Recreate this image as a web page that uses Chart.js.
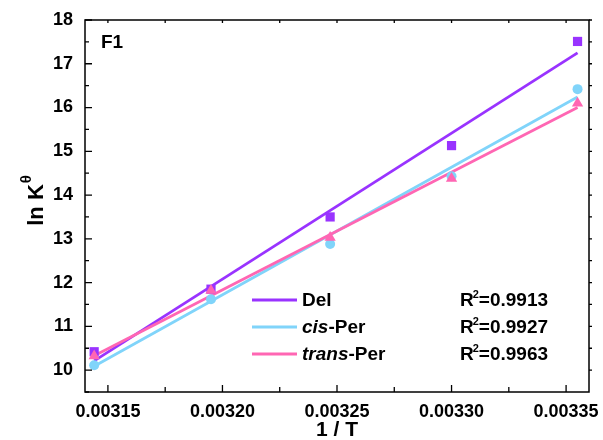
<!DOCTYPE html>
<html>
<head>
<meta charset="utf-8">
<script src="https://cdn.jsdelivr.net/npm/chart.js@4/dist/chart.umd.min.js"></script>
<style>
  body { margin: 0; background: #fff; }
  #wrap { width: 603px; height: 440px; }
</style>
</head>
<body>
<div id="wrap"><canvas id="chart" width="603" height="440"></canvas></div>
<script>
// values
const invT = [0.003144, 0.003195, 0.003247, 0.003300, 0.003355];
const delY = [10.42, 11.85, 13.50, 15.13, 17.51];
const cisY = [10.11, 11.62, 12.88, 14.43, 16.42];
const transY = [10.32, 11.82, 13.03, 14.38, 16.10];

// fitted lines, end values read at first and last 1/T
const delFit = [10.21, 17.25];
const cisFit = [10.09, 16.24];
const transFit = [10.33, 16.00];

const xTicks = [0.00315, 0.00320, 0.00325, 0.00330, 0.00335];
const yTicks = [10, 11, 12, 13, 14, 15, 16, 17, 18];

const seriesNames = ["Del", "cis-Per", "trans-Per"];
const r2Labels = ["0.9913", "0.9927", "0.9963"];

const PURPLE = "#9933ff";
const BLUE = "#80d4fa";
const PINK = "#ff66b3";
const FONT = "'Liberation Sans', Arial, sans-serif";

const pts = ys => invT.map((x, i) => ({ x: x, y: ys[i] }));
const fit = f => [{ x: invT[0], y: f[0] }, { x: invT[invT.length - 1], y: f[1] }];

const lineDs = (data, color, order) => ({
  data: data,
  showLine: true,
  borderColor: color,
  borderWidth: 2.8,
  pointRadius: 0,
  fill: false,
  order: order,
});

const markDs = (data, color, style, r, order) => ({
  data: data,
  showLine: false,
  pointStyle: style,
  pointRadius: r,
  pointBackgroundColor: color,
  pointBorderColor: color,
  pointBorderWidth: 0,
  order: order,
});

// ticks, box, legend and titles
const decor = {
  id: "decor",
  afterDraw(chart) {
    const c = chart.ctx;
    const a = chart.chartArea;
    const xs = chart.scales.x;
    const ys = chart.scales.y;
    c.save();
    c.strokeStyle = "#000";
    c.lineWidth = 1.5;
    c.strokeRect(a.left, a.top, a.right - a.left, a.bottom - a.top);

    c.lineWidth = 1.3;
    c.beginPath();
    for (let i = 0; i < xTicks.length * 2; i++) {
      const v = xTicks[0] + i * 0.000025;
      if (v > xs.max) break;
      const px = xs.getPixelForValue(v);
      const len = i % 2 === 0 ? 7 : 5;
      c.moveTo(px, a.bottom);
      c.lineTo(px, a.bottom - len);
      c.moveTo(px, a.top);
      c.lineTo(px, a.top + 3);
    }
    for (let i = 0; i < yTicks.length * 2 - 1; i++) {
      const v = yTicks[0] + i * 0.5;
      const py = ys.getPixelForValue(v);
      const len = i % 2 === 0 ? 7 : 4;
      c.moveTo(a.left, py);
      c.lineTo(a.left + len, py);
      c.moveTo(a.right, py);
      c.lineTo(a.right + 3, py);
    }
    c.moveTo(a.left, ys.getPixelForValue(9.5));
    c.lineTo(a.left + 4, ys.getPixelForValue(9.5));
    c.stroke();

    // panel tag
    c.fillStyle = "#000";
    c.textBaseline = "middle";
    c.textAlign = "left";
    c.font = "bold 19px " + FONT;
    c.fillText("F1", 101, 43);

    // legend
    const colors = [PURPLE, BLUE, PINK];
    const rows = [300, 327, 354];
    rows.forEach((y, i) => {
      c.strokeStyle = colors[i];
      c.lineWidth = 3;
      c.beginPath();
      c.moveTo(252, y);
      c.lineTo(297, y);
      c.stroke();

      c.fillStyle = "#000";
      let x = 302;
      const parts = seriesNames[i].split("-");
      if (parts.length > 1) {
        c.font = "italic bold 19px " + FONT;
        c.fillText(parts[0], x, y + 1);
        x += c.measureText(parts[0]).width;
        c.font = "bold 19px " + FONT;
        c.fillText("-" + parts[1], x, y + 1);
      } else {
        c.font = "bold 19px " + FONT;
        c.fillText(parts[0], x, y + 1);
      }

      x = 460;
      c.font = "bold 19px " + FONT;
      c.fillText("R", x, y + 1);
      x += c.measureText("R").width - 1;
      c.font = "bold 11px " + FONT;
      c.fillText("2", x, y - 5);
      x += c.measureText("2").width;
      c.font = "bold 19px " + FONT;
      c.fillText("=" + r2Labels[i], x, y + 1);
    });

    // x title
    c.textAlign = "center";
    c.font = "bold 21px " + FONT;
    c.fillText("1 / T", 337, 430);

    // y title
    c.translate(37, 200);
    c.rotate(-Math.PI / 2);
    c.textAlign = "left";
    c.font = "bold 22px " + FONT;
    const main = "ln K";
    const w = c.measureText(main).width;
    c.fillText(main, -w / 2 - 5, 0);
    c.font = "bold 15px " + FONT;
    c.fillText("\u03b8", w / 2 - 4, -10);
    c.restore();
  }
};

new Chart(document.getElementById("chart"), {
  type: "scatter",
  data: {
    datasets: [
      markDs(pts(transY), PINK, "triangle", 6.5, 1),
      markDs(pts(cisY), BLUE, "circle", 5, 2),
      markDs(pts(delY), PURPLE, "rect", 6.5, 3),
      lineDs(fit(transFit), PINK, 4),
      lineDs(fit(cisFit), BLUE, 5),
      lineDs(fit(delFit), PURPLE, 6),
    ],
  },
  options: {
    responsive: false,
    animation: false,
    layout: {
      padding: { left: 0, right: 14, top: 20, bottom: 0 },
    },
    plugins: {
      legend: { display: false },
      tooltip: { enabled: false },
    },
    scales: {
      x: {
        type: "linear",
        min: 0.00314,
        max: 0.00336,
        afterBuildTicks: s => { s.ticks = xTicks.map(v => ({ value: v })); },
        afterFit: s => { s.height = 48; },
        border: { display: false },
        grid: { display: false },
        ticks: {
          color: "#000",
          padding: 1,
          maxRotation: 0,
          font: { family: FONT, size: 18, weight: "bold" },
          callback: v => v.toFixed(5),
        },
      },
      y: {
        min: 9.5,
        max: 18,
        afterBuildTicks: s => { s.ticks = yTicks.map(v => ({ value: v })); },
        afterFit: s => { s.width = 85; },
        border: { display: false },
        grid: { display: false },
        ticks: {
          color: "#000",
          padding: 4,
          font: { family: FONT, size: 18, weight: "bold" },
        },
      },
    },
  },
  plugins: [decor],
});
</script>
</body>
</html>
